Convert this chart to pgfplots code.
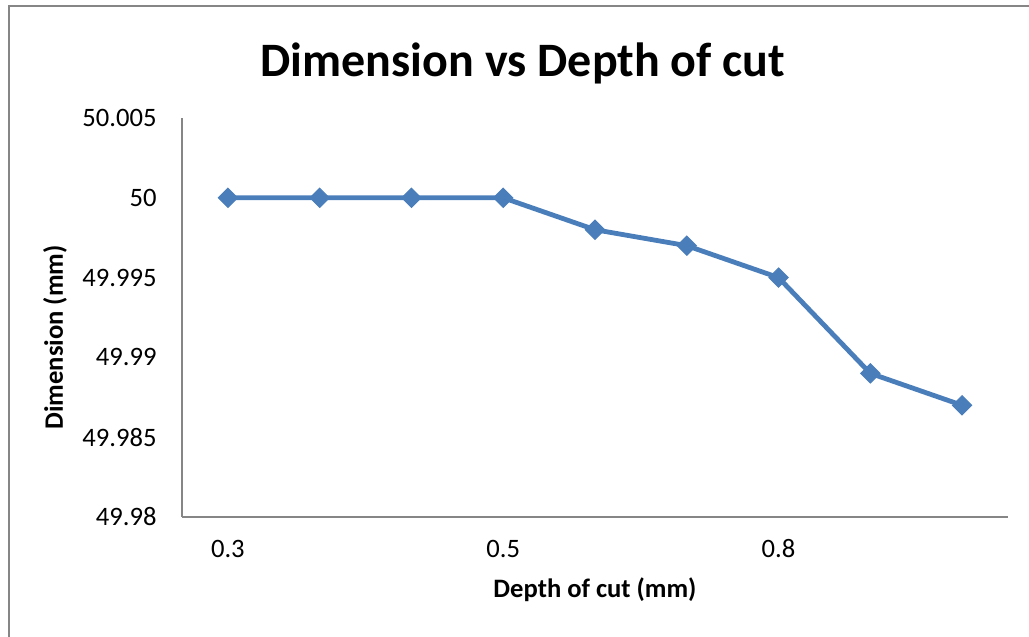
\documentclass[border=0pt]{standalone}
\usepackage{pgfplots}
\pgfplotsset{compat=1.18}
\usepackage{fontspec}
\setmainfont{Carlito}
\definecolor{serieblue}{HTML}{4A7EBB}
\definecolor{axisgray}{HTML}{868686}
\begin{document}
\begin{tikzpicture}
\useasboundingbox (0,0) rectangle (514.5pt,318.5pt);
% chart area border (left and top edges)
\draw[axisgray, line width=1pt] (4.5pt,0) -- (4.5pt,315.5pt) -- (514.5pt,315.5pt);
\begin{axis}[
  at={(91pt,60pt)}, anchor=south west,
  scale only axis, width=413pt, height=199.5pt,
  xmin=-0.5, xmax=8.5,
  ymin=49.98, ymax=50.005,
  axis x line=bottom, axis y line=left,
  axis line style={-, draw=axisgray, line width=0.7pt},
  major tick length=0pt,
  xtick={0,3,6},
  xticklabels={0.3,0.5,0.8},
  ytick={49.98,49.985,49.99,49.995,50,50.005},
  yticklabels={49.98,49.985,49.99,49.995,50,50.005},
  /pgf/number format/assume math mode=true,
  tick label style={font=\fontsize{13.3pt}{15pt}\selectfont, text=black},
  xticklabel style={anchor=center, yshift=-16pt},
  yticklabel style={anchor=east, inner sep=0pt, xshift=-12.5pt},
  xlabel={\textbf{Depth of cut (mm)}},
  ylabel={\textbf{Dimension (mm)}},
  label style={font=\fontsize{13.3pt}{15pt}\selectfont},
  xlabel style={at={(axis description cs:0.5,0)}, anchor=center, yshift=-36.5pt},
  ylabel style={at={(axis description cs:0,0.45)}, anchor=center, yshift=63.5pt},
  clip=false,
]
\addplot[serieblue, line width=2.4pt, mark=square*, mark size=3.4pt,
  mark options={rotate=45, fill=serieblue, draw=serieblue, line width=0.5pt}]
  coordinates {
    (0,50.000) (1,50.000) (2,50.000) (3,50.000) (4,49.998)
    (5,49.997) (6,49.995) (7,49.989) (8,49.987)
  };
\end{axis}
\node[anchor=base, font=\fontsize{24pt}{28pt}\selectfont\bfseries] at (261.5pt,280pt) {Dimension vs Depth of cut};
\end{tikzpicture}
\end{document}
